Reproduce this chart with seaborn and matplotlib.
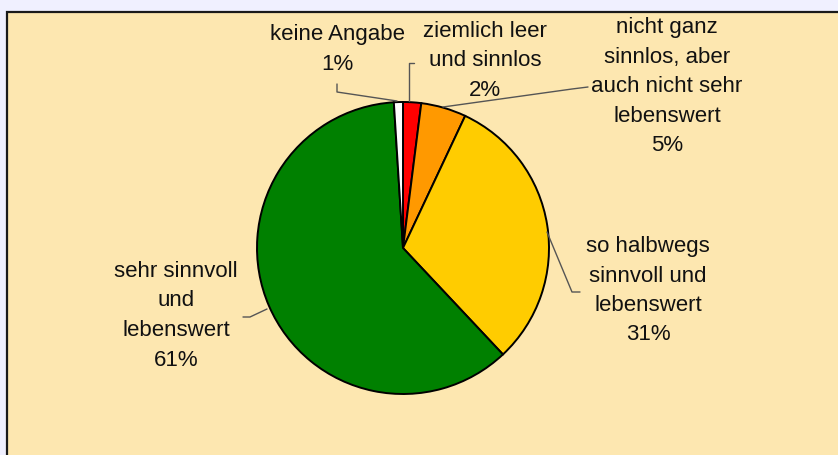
import matplotlib
matplotlib.use("Agg")
import matplotlib.pyplot as plt
import seaborn as sns
from matplotlib.patches import Rectangle

# data (clockwise from 12 o'clock)
categories = ["ziemlich leer\nund sinnlos", "nicht ganz\nsinnlos, aber\nauch nicht sehr\nlebenswert",
              "so halbwegs\nsinnvoll und\nlebenswert", "sehr sinnvoll\nund\nlebenswert", "keine Angabe"]
shares = [2, 5, 31, 61, 1]
colors = ["#FF0000", "#FF9900", "#FFCC00", "#008000", "#FFFFFF"]

# label layout: (center x, first baseline y) in pixels, leader polyline
label_pos = [(485, 37), (667, 33), (648, 252), (176, 277), (337, 40)]
leaders = [
    [(414, 63), (409, 63), (409, 101)],
    [(443, 107), (572, 89), (588, 87)],
    [(547, 232), (572, 292), (580, 292)],
    [(267, 309), (250, 317), (243, 317)],
    [(337, 84), (337, 92), (397, 101)],
]

sns.set_theme(style="white")
plt.rcParams["font.family"] = ["Liberation Sans", "DejaVu Sans"]

fig = plt.figure(figsize=(8.38, 4.55), dpi=100, facecolor="#F0F0FF")
ax = fig.add_axes([0, 0, 1, 1])

ax.add_patch(Rectangle((7, 12), 900, 500, facecolor="#FDE7B0",
                       edgecolor="#1a1a1a", linewidth=1.6, zorder=0))

# inverted y axis: counterclock in data = clockwise on screen, -90 = top
ax.pie(shares, colors=colors, startangle=-90, counterclock=True,
       center=(403, 248), radius=146, frame=True,
       wedgeprops=dict(edgecolor="black", linewidth=1.4))
ax.set_xlim(0, 838)
ax.set_ylim(455, 0)
ax.axis("off")

for cat, val, (cx, by), pts in zip(categories, shares, label_pos, leaders):
    lines = cat.split("\n") + [f"{val}%"]
    for i, ln in enumerate(lines):
        ax.text(cx, by + i * 29.5, ln, ha="center", va="baseline",
                fontsize=16, color="#111111", zorder=5)
    xs, ys = zip(*pts)
    ax.plot(xs, ys, color="#555555", linewidth=1, zorder=4)

fig.savefig("out.png", dpi=100, facecolor=fig.get_facecolor())
